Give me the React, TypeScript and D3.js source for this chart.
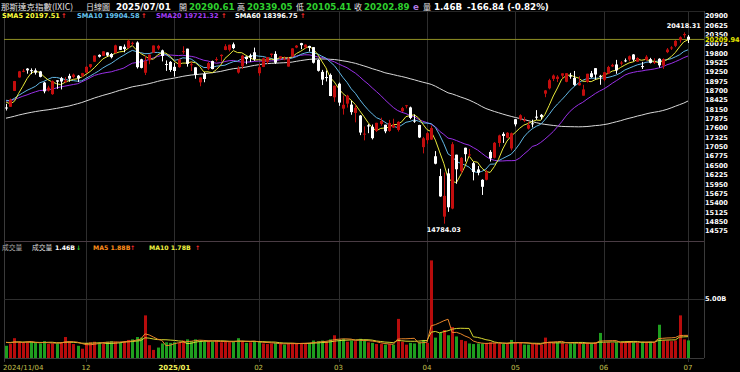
import React from "react";
import * as d3 from "d3";

const W = 740;
const H = 372;

// closes before the first visible day (for moving averages)
const priorCloses = [
  16780.61, 17187.61, 17192.6, 17594.5, 17631.72, 17876.77, 17816.94, 17918.99, 17619.35, 17877.79,
  17725.77, 17754.82, 17556.03, 17516.43, 17713.62,
  17136.3, 17084.3, 17127.66, 16690.83, 16884.6, 17025.88, 17395.53, 17569.68, 17683.98, 17592.13,
  17628.06, 17573.3, 18013.98, 17948.32, 17974.27, 18074.52, 18082.21, 18190.29, 18119.59, 18189.17,
  17910.36, 17925.12, 17918.48, 18137.85, 17923.9, 18182.92, 18291.62, 18282.05, 18342.94, 18502.69,
  18315.59, 18367.08, 18373.61, 18489.55, 18540.01, 18573.13, 18276.65, 18415.49, 18518.61, 18567.19,
  18712.75, 18607.16, 18095.15, 18239.92,
];

const opens = [
  18206, 18227, 18695, 19091, 19262, 19351, 19305, 19298, 19268, 18940, 18703, 18599, 19006, 19069, 18961, 19137, 19103, 19142, 19138,
  19235, 19401, 19554, 19755, 19727, 19827, 19781, 19809, 20010, 19994, 19962, 20091, 20120, 19625, 19229, 19597, 19822, 19943, 19887, 19488, 19549,
  19403, 19395, 19851, 19938, 19469, 19389, 18946, 19197, 19348, 19573, 19602, 19719, 19900, 19904, 20067, 19235, 19418, 19698, 19740, 19832,
  19215, 19400, 19544, 19753, 19784, 19651, 19625, 19411, 19711, 19971, 20101, 19976, 20018, 19983, 19604, 19255, 19102, 19165, 18506,
  18907, 18172, 18320, 18290, 18044, 17969, 17428, 17681, 17637, 17517, 17721, 17698, 17515, 17615, 17546, 18096, 18249, 18208, 17819, 17689, 17039,
  17244, 17261, 16770, 16186, 14993, 16265, 15230, 16816, 16328, 17021, 16822, 16567, 16381, 16076, 16078, 16898, 16727, 17161, 17429, 17314, 17000,
  17860, 17861, 17812, 17585, 17740, 17935, 17990, 18613, 18770, 19049, 19047, 19143, 18963, 19145, 19078, 18859, 18554, 18958, 19214, 19364, 19139,
  19022, 19206, 19414, 19473, 19498, 19593, 19617, 19767, 19553, 19425, 19605, 19629, 19528, 19641, 19440, 19836, 19968, 20022, 20187, 20335,
  20290.61,
];

const highs = [
  18315, 18467, 18988, 19283, 19335, 19366, 19358, 19357, 19283, 18960, 18847, 19003, 19009, 19106, 19101, 19199, 19204, 19163, 19226,
  19419, 19487, 19736, 19772, 19863, 19832, 19808, 20055, 20011, 20061, 20204, 20143, 20153, 19640, 19719, 19767, 20032, 20050, 19909, 19592, 19571,
  19517, 19638, 20008, 19939, 19546, 19389, 19093, 19249, 19548, 19586, 19689, 19770, 20069, 20054, 20118, 19418, 19756, 19708, 19790, 19969,
  19493, 19673, 19693, 19792, 19862, 19718, 19710, 19695, 19952, 20046, 20110, 20065, 20024, 19986, 19628, 19314, 19293, 19208, 18852,
  18940, 18559, 18581, 18403, 18288, 17984, 17648, 17717, 17704, 17757, 17905, 17699, 17840, 17875, 17800, 18223, 18281, 18232, 18000, 17697, 17340,
  17483, 17673, 16922, 16401, 16292, 16408, 17186, 16817, 16745, 17023, 16984, 16604, 16484, 16091, 16373, 16949, 17188, 17405, 17478, 17480, 17469,
  17862, 18006, 17930, 17783, 17848, 18128, 18015, 18722, 19052, 19178, 19155, 19212, 19217, 19225, 19282, 19125, 18873, 19199, 19282, 19366, 19167,
  19249, 19434, 19494, 19608, 19574, 19649, 19737, 19778, 19684, 19549, 19747, 19668, 19655, 19655, 19654, 19956, 20011, 20187, 20300, 20418.31,
  20339.05,
];

const lows = [
  18117, 18223, 18690, 19084, 19245, 19202, 19189, 19175, 19093, 18623, 18677, 18578, 18755, 18737, 18923, 18963, 19060, 18955, 19102,
  19221, 19361, 19550, 19676, 19723, 19702, 19652, 19803, 19898, 19830, 19940, 20033, 19353, 19358, 19161, 19481, 19812, 19897, 19563, 19284, 19256,
  19117, 19379, 19785, 19408, 19283, 19053, 18831, 18949, 19310, 19330, 19561, 19561, 19892, 19855, 19922, 19204, 19339, 19480, 19548, 19580,
  19141, 19395, 19490, 19689, 19488, 19623, 19597, 19409, 19692, 19951, 19924, 19933, 19856, 19501, 19264, 18867, 18973, 18539, 18372,
  18255, 17996, 18203, 17992, 17768, 17392, 17238, 17450, 17265, 17484, 17669, 17448, 17492, 17607, 17498, 18076, 18182, 17861, 17754, 17306, 16854,
  17137, 17254, 16533, 15575, 14784.03, 15133, 15210, 15960, 16258, 16612, 16756, 16060, 16209, 15631, 16060, 16615, 16706, 17049, 17163, 17298, 16941,
  17649, 17825, 17775, 17559, 17618, 17841, 17856, 18509, 18740, 18984, 18955, 19060, 18949, 19052, 18843, 18852, 18554, 18937, 19081, 19023, 18875,
  18978, 19189, 19396, 19198, 19444, 19541, 19566, 19564, 19553, 19339, 19584, 19504, 19486, 19383, 19343, 19807, 19899, 19984, 20116, 20260,
  20105.41,
];

const closes = [
  18179.98, 18439.17, 18983.47, 19269.46, 19286.78, 19298.76, 19281.4, 19230.74, 19107.65, 18680.12, 18791.81, 18987.47, 18966.14, 18972.42, 19003.65, 19054.84, 19174.3, 19060.48, 19218.17,
  19403.95, 19480.91, 19735.12, 19700.26, 19859.77, 19736.69, 19687.24, 20034.89, 19902.84, 19926.72, 20173.89, 20109.06, 19392.69, 19372.77, 19572.6, 19764.89, 20031.13, 20020.36, 19722.03, 19486.79, 19310.79,
  19280.79, 19621.68, 19864.98, 19489.68, 19478.88, 19161.63, 19088.1, 19044.39, 19511.23, 19338.29, 19630.2, 19756.78, 20009.34, 20053.68, 19954.3, 19341.83, 19733.59, 19632.32, 19681.75, 19627.44,
  19391.96, 19654.02, 19692.33, 19791.99, 19523.4, 19714.27, 19643.86, 19649.95, 19945.64, 20026.77, 20041.26, 20056.25, 19962.36, 19524.01, 19286.93, 19026.39, 19075.26, 18544.42, 18847.28,
  18350.19, 18285.16, 18552.73, 18069.26, 18196.22, 17468.32, 17436.1, 17648.45, 17303.01, 17754.09, 17808.66, 17504.12, 17750.79, 17691.63, 17784.05, 18188.59, 18271.86, 17899.02, 17804.03, 17322.99, 17299.29,
  17449.89, 17601.05, 16550.61, 15587.79, 15603.26, 15267.91, 17124.97, 16387.31, 16724.46, 16831.48, 16823.17, 16307.16, 16286.45, 15870.9, 16300.42, 16708.05, 17166.04, 17382.94, 17366.13, 17461.32, 17446.34,
  17710.74, 17977.73, 17844.24, 17689.66, 17738.16, 17928.14, 17928.92, 18708.34, 19010.08, 19146.81, 19112.32, 19211.1, 19215.46, 19142.71, 18872.64, 18925.74, 18737.21, 19199.16, 19100.94, 19175.87, 19113.77,
  19242.61, 19398.96, 19460.49, 19298.45, 19529.95, 19591.24, 19714.99, 19615.88, 19662.49, 19406.83, 19701.21, 19521.09, 19546.27, 19447.41, 19630.97, 19912.53, 19973.55, 20167.91, 20273.46, 20369.73,
  20202.89,
];

// volume in billions
const priorVolumes = [1.2, 1.25, 1.3, 1.35, 1.3, 1.4, 1.35, 1.3, 1.45];
const volumes = [
  1.0, 1.15, 1.65, 1.35, 1.25, 1.3, 1.3, 1.25, 1.2, 1.4, 1.15, 1.2, 1.2, 1.3, 1.75, 1.35, 1.15, 1.0, 0.75,
  1.25, 1.3, 1.35, 1.3, 1.2, 1.35, 1.4, 1.35, 1.3, 1.35, 1.5, 1.55, 1.75, 1.7, 3.6, 1.05, 0.65, 0.85, 1.2, 1.3, 1.25,
  1.3, 1.25, 1.45, 1.55, 1.4, 1.55, 1.45, 1.35, 1.4, 1.35, 1.45, 1.3, 1.35, 1.3, 1.35, 1.65, 1.4, 1.25, 1.3, 1.4,
  1.35, 1.2, 1.15, 1.2, 1.25, 1.15, 1.1, 1.2, 1.25, 1.2, 1.25, 1.2, 1.25, 1.45, 1.4, 1.45, 1.35, 1.55, 1.9,
  1.55, 1.6, 1.35, 1.45, 1.4, 1.6, 1.45, 1.3, 1.25, 1.15, 1.15, 1.1, 1.15, 1.1, 3.3, 1.35, 1.1, 1.25, 1.2, 1.3, 1.5,
  1.25, 8.3, 1.7, 2.1, 2.35, 1.9, 2.6, 1.8, 1.5, 1.4, 1.2, 1.15, 1.2, 1.2, 1.25, 1.3, 1.25, 1.2, 1.15, 1.2, 1.5,
  1.3, 1.25, 1.1, 1.1, 1.15, 1.2, 1.1, 1.7, 1.35, 1.3, 1.3, 1.25, 1.15, 1.2, 1.3, 1.2, 1.15, 1.25, 1.2, 1.3, 2.1,
  1.25, 1.3, 1.25, 1.3, 1.25, 1.3, 1.35, 1.35, 1.25, 1.35, 1.3, 1.35, 1.3, 2.8, 1.45, 1.45, 1.4, 1.45, 3.6, 1.55,
  1.46,
];

const monthStartIdx = [0, 19, 40, 60, 79, 100, 121, 142, 162];
const monthLabels = ["2024/11/04", "12", "2025/01", "02", "03", "04", "05", "06", "07"];
const priceTicks = [
  20900, 20625, 20350, 20075, 19800, 19525, 19250, 18975, 18700, 18425, 18150, 17875,
  17600, 17325, 17050, 16775, 16500, 16225, 15950, 15675, 15400, 15125, 14850, 14575,
];
const lastPriceMark = 20209.94;

const RED = "#c30d0d";
const VRED = "#b80c0c";
const VGREEN = "#1f9e1f";
const C_SMA5 = "#e8e83a";
const C_SMA10 = "#62b8e6";
const C_SMA20 = "#9a30e8";
const C_SMA60 = "#d9d9d9";
const C_VMA5 = "#e8862a";
const C_VMA10 = "#d8d830";
const GRID = "#2e2e2e";
const NUM = "DejaVu Sans, Verdana, sans-serif";
const CJK = "Noto Sans CJK TC, sans-serif";

function sma(series: number[], n: number, offset: number, count: number): (number | null)[] {
  const out: (number | null)[] = [];
  for (let i = 0; i < count; i++) {
    const end = offset + i + 1;
    const start = end - n;
    out.push(start < 0 ? null : (d3.mean(series.slice(start, end)) as number));
  }
  return out;
}

export default function App() {
  const n = closes.length;
  const x = d3.scaleLinear().domain([0, n - 1]).range([6, 688]);
  const y = d3.scaleLinear().domain([14575, 20900]).range([230.8, 16]);
  const yv = d3.scaleLinear().domain([0, 5]).range([357.5, 299]);

  const allC = priorCloses.concat(closes);
  const off = priorCloses.length;
  const ma5 = sma(allC, 5, off, n);
  const ma10 = sma(allC, 10, off, n);
  const ma20 = sma(allC, 20, off, n);
  const ma60 = sma(allC, 60, off, n);
  const allV = priorVolumes.concat(volumes);
  const vma5 = sma(allV, 5, priorVolumes.length, n);
  const vma10 = sma(allV, 10, priorVolumes.length, n);

  const mkLine = (vals: (number | null)[], sc: d3.ScaleLinear<number, number>) =>
    d3
      .line<number | null>()
      .defined((d) => d != null)
      .x((_, i) => x(i))
      .y((d) => sc(d as number))(vals) || "";

  const maxI = d3.maxIndex(highs);
  const minI = d3.minIndex(lows);

  const xl = 4;
  const xr = 704;
  const paneTop = 11;
  const paneSep = 241.5;
  const volBottom = 358;

  const bw = 3;

  return (
    <svg
      width={W}
      height={H}
      style={{ position: "absolute", left: 0, top: 0, display: "block", background: "#000" }}
    >
      <rect x={0} y={0} width={W} height={H} fill="#000" />

      {/* grid */}
      {monthStartIdx.map((mi, k) =>
        k === 0 ? null : (
          <line key={"g" + k} x1={Math.round(x(mi)) + 0.5} x2={Math.round(x(mi)) + 0.5} y1={paneTop} y2={362} stroke={GRID} strokeWidth={1} />
        )
      )}
      <line x1={xl + 0.5} x2={xl + 0.5} y1={paneTop} y2={362} stroke="#3a3a3a" />
      <line x1={xr + 0.5} x2={xr + 0.5} y1={paneTop} y2={volBottom} stroke="#3a3a3a" />
      <line x1={xl} x2={xr} y1={paneTop + 0.5} y2={paneTop + 0.5} stroke="#262626" />
      <line x1={xl} x2={xr} y1={paneSep} y2={paneSep} stroke="#4a3c44" />
      <line x1={xl} x2={xr} y1={Math.round(yv(5)) + 0.5} y2={Math.round(yv(5)) + 0.5} stroke={GRID} />
      <line x1={xl} x2={xr} y1={volBottom + 0.5} y2={volBottom + 0.5} stroke="#3a3a3a" />

      {/* last price line */}
      <line x1={xl} x2={xr} y1={y(lastPriceMark)} y2={y(lastPriceMark)} stroke="#8f8f24" strokeWidth={1} />

      {/* moving averages */}
      <path d={mkLine(ma60, y)} fill="none" stroke={C_SMA60} strokeWidth={1} />
      <path d={mkLine(ma20, y)} fill="none" stroke={C_SMA20} strokeWidth={1} />
      <path d={mkLine(ma10, y)} fill="none" stroke={C_SMA10} strokeWidth={1} />
      <path d={mkLine(ma5, y)} fill="none" stroke={C_SMA5} strokeWidth={1} />

      {/* candles */}
      {closes.map((c, i) => {
        const o = opens[i];
        const up = c >= o;
        const col = up ? RED : "#ffffff";
        const cx = Math.round(x(i));
        const top = y(Math.max(o, c));
        const bot = y(Math.min(o, c));
        return (
          <g key={"c" + i}>
            <line x1={cx + 0.5} x2={cx + 0.5} y1={y(highs[i])} y2={y(lows[i])} stroke={col} strokeWidth={1} />
            <rect x={cx - 1} y={top} width={bw} height={Math.max(1, bot - top)} fill={col} />
          </g>
        );
      })}

      {/* high / low labels */}
      <text x={x(maxI)} y={y(highs[maxI]) - 4} fill="#fff" fontFamily={NUM} fontWeight="bold" fontSize={6.5} textAnchor="middle">
        {highs[maxI].toFixed(2)}
      </text>
      <text x={x(minI)} y={y(lows[minI]) + 8.5} fill="#fff" fontFamily={NUM} fontWeight="bold" fontSize={6.5} textAnchor="middle">
        {lows[minI].toFixed(2)}
      </text>

      {/* price axis labels */}
      {priceTicks.map((t) => (
        <text key={"t" + t} x={705} y={y(t) + 2.4} fill="#fff" fontFamily={NUM} fontWeight="bold" fontSize={6.6}>
          {t}
        </text>
      ))}
      <rect x={705} y={y(lastPriceMark) - 3} width={30} height={6} fill="#000" />
      <text x={705} y={y(lastPriceMark) + 2.4} fill="#e6e600" fontFamily={NUM} fontWeight="bold" fontSize={6.6}>
        {lastPriceMark.toFixed(2)}
      </text>

      {/* volume bars */}
      {volumes.map((v, i) => {
        const prev = i === 0 ? priorCloses[priorCloses.length - 1] : closes[i - 1];
        const up = closes[i] >= prev;
        const cx = Math.round(x(i));
        const top = yv(v);
        return <rect key={"v" + i} x={cx - 1} y={top} width={bw} height={volBottom - top} fill={up ? VRED : VGREEN} />;
      })}
      <path d={mkLine(vma10, yv)} fill="none" stroke={C_VMA10} strokeWidth={1} />
      <path d={mkLine(vma5, yv)} fill="none" stroke={C_VMA5} strokeWidth={1} />
      <text x={705} y={yv(5) + 2.4} fill="#fff" fontFamily={NUM} fontWeight="bold" fontSize={6.6}>
        5.00B
      </text>

      {/* x axis labels */}
      {monthStartIdx.map((mi, k) => (
        <text
          key={"m" + k}
          x={k === 0 ? 3 : x(mi)}
          y={370}
          fill={k === 2 ? "#f2f25a" : "#c4c04e"}
          fontFamily={NUM}
          fontWeight={k === 2 ? "bold" : "normal"}
          fontSize={7}
          textAnchor={k === 0 ? "start" : "middle"}
        >
          {monthLabels[k]}
        </text>
      ))}

      {/* header line 1 */}
      <g fontFamily={NUM} fontWeight="bold" fontSize={8.7}>
        <text x={1} y={10} fill="#e6e6e6" fontFamily={CJK} fontWeight="normal" fontSize={8.5}>那斯達克指數(IXIC)</text>
        <text x={86} y={10} fill="#e6e6e6" fontFamily={CJK} fontWeight="normal" fontSize={8}>日線圖</text>
        <text x={116} y={10} fill="#fff">2025/07/01</text>
        <text x={179} y={10} fill="#e6e6e6" fontFamily={CJK} fontWeight="normal" fontSize={8}>開</text>
        <text x={189} y={10} fill="#2ed02e">20290.61</text>
        <text x={237} y={10} fill="#e6e6e6" fontFamily={CJK} fontWeight="normal" fontSize={8}>高</text>
        <text x={247} y={10} fill="#2ed02e">20339.05</text>
        <text x={296} y={10} fill="#e6e6e6" fontFamily={CJK} fontWeight="normal" fontSize={8}>低</text>
        <text x={306} y={10} fill="#2ed02e">20105.41</text>
        <text x={354} y={10} fill="#e6e6e6" fontFamily={CJK} fontWeight="normal" fontSize={8}>收</text>
        <text x={364} y={10} fill="#2ed02e">20202.89</text>
        <text x={413} y={10} fill="#b07ae0">e</text>
        <text x={423} y={10} fill="#e6e6e6" fontFamily={CJK} fontWeight="normal" fontSize={8}>量</text>
        <text x={434} y={10} fill="#fff">1.46B</text>
        <text x={467} y={10} fill="#fff">-166.84 (-0.82%)</text>
      </g>

      {/* header line 2 */}
      <g fontFamily={NUM} fontWeight="bold" fontSize={6.6}>
        <text x={2} y={18} fill="#ffff3c">SMA5 20197.51</text>
        <text x={61} y={18} fill="#ff2a2a">↑</text>
        <text x={77} y={18} fill="#66c4f0">SMA10 19904.58</text>
        <text x={141} y={18} fill="#ff2a2a">↑</text>
        <text x={156} y={18} fill="#a33cf5">SMA20 19721.32</text>
        <text x={221} y={18} fill="#ff2a2a">↑</text>
        <text x={235} y={18} fill="#ffffff">SMA60 18396.75</text>
        <text x={300} y={18} fill="#ff2a2a">↑</text>
      </g>

      {/* volume header */}
      <g fontFamily={NUM} fontWeight="bold" fontSize={6.2}>
        <text x={2} y={250} fill="#a8a8a8" fontFamily={CJK} fontWeight="normal" fontSize={6.8}>成交量</text>
        <text x={32} y={250} fill="#dddddd" fontFamily={CJK} fontWeight="normal" fontSize={6.8}>成交量</text>
        <text x={55} y={250} fill="#fff">1.46B</text>
        <text x={76} y={250} fill="#2ed02e">↓</text>
        <text x={93} y={250} fill="#ff8c1a">MA5 1.88B</text>
        <text x={130} y={250} fill="#ff2a2a">↑</text>
        <text x={149} y={250} fill="#f0f040">MA10 1.78B</text>
        <text x={195} y={250} fill="#ff2a2a">↑</text>
      </g>
    </svg>
  );
}
